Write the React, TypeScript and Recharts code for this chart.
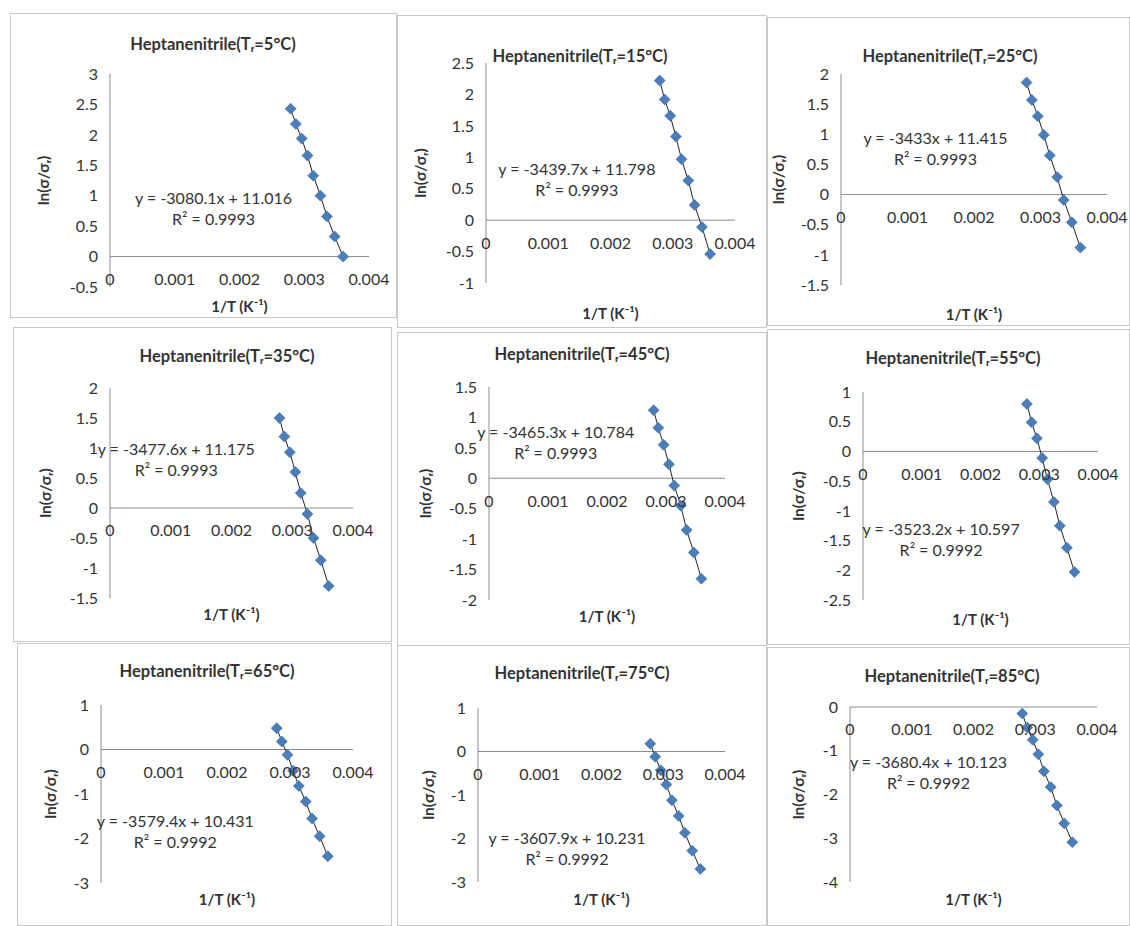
import { ReferenceDot, ReferenceLine, Scatter, ScatterChart, XAxis, YAxis } from 'recharts';

// 1/T (K^-1) for the nine temperatures, same in every panel
const invT = [0.00279, 0.00287, 0.00296, 0.00305, 0.00314, 0.00325, 0.00335, 0.00347, 0.0036];

const refTemps = [5, 15, 25, 35, 45, 55, 65, 75, 85];

const ln5 = [2.43, 2.18, 1.94, 1.66, 1.33, 1.0, 0.66, 0.33, 0.0];
const ln15 = [2.22, 1.92, 1.66, 1.33, 0.97, 0.63, 0.24, -0.11, -0.54];
const ln25 = [1.86, 1.57, 1.3, 0.99, 0.65, 0.29, -0.09, -0.46, -0.88];
const ln35 = [1.5, 1.19, 0.93, 0.6, 0.25, -0.1, -0.5, -0.87, -1.3];
const ln45 = [1.12, 0.83, 0.55, 0.23, -0.12, -0.45, -0.85, -1.22, -1.65];
const ln55 = [0.8, 0.49, 0.22, -0.11, -0.47, -0.85, -1.25, -1.62, -2.03];
const ln65 = [0.48, 0.18, -0.12, -0.48, -0.82, -1.17, -1.55, -1.95, -2.4];
const ln75 = [0.18, -0.12, -0.43, -0.76, -1.12, -1.48, -1.87, -2.28, -2.7];
const ln85 = [-0.15, -0.47, -0.75, -1.08, -1.47, -1.83, -2.25, -2.66, -3.09];
const series = [ln5, ln15, ln25, ln35, ln45, ln55, ln65, ln75, ln85];

const equations = [
  'y = -3080.1x + 11.016',
  'y = -3439.7x + 11.798',
  'y = -3433x + 11.415',
  'y = -3477.6x + 11.175',
  'y = -3465.3x + 10.784',
  'y = -3523.2x + 10.597',
  'y = -3579.4x + 10.431',
  'y = -3607.9x + 10.231',
  'y = -3680.4x + 10.123',
];
const rSquared = ['0.9993', '0.9993', '0.9993', '0.9993', '0.9993', '0.9992', '0.9992', '0.9992', '0.9992'];

const xTicks = [0, 0.001, 0.002, 0.003, 0.004];
const yDomains = [
  [-0.5, 3], [-1, 2.5], [-1.5, 2],
  [-1.5, 2], [-2, 1.5], [-2.5, 1],
  [-3, 1], [-3, 1], [-4, 0],
];
const yStep = [0.5, 0.5, 0.5, 0.5, 0.5, 0.5, 1, 1, 1];

// where the equation sits, in data units
const eqAt = [
  [0.0016, 0.94], [0.00146, 0.8], [0.00142, 0.93],
  [0.00109, 0.97], [0.00113, 0.74], [0.00133, -1.32],
  [0.00118, -1.62], [0.00144, -2.02], [0.00127, -1.28],
];

// panel frames and plot boxes (px)
const layout = [
  { x: 10, y: 13, w: 387, h: 305, pl: 100, pt: 61, pr: 359, pb: 274, yl: 33, xt: 18, tx: 202, ty: 30 },
  { x: 397, y: 15, w: 370, h: 313, pl: 89, pt: 48, pr: 338, pb: 268, yl: 23, xt: 29, tx: 182, ty: 40 },
  { x: 767, y: 17, w: 363, h: 309, pl: 74, pt: 57, pr: 340, pb: 268, yl: 11, xt: 28, tx: 182, ty: 38 },
  { x: 13, y: 327, w: 379, h: 315, pl: 97, pt: 61, pr: 340, pb: 271, yl: 32, xt: 15, tx: 213, ty: 28 },
  { x: 397, y: 332, w: 370, h: 316, pl: 92, pt: 55, pr: 328, pb: 268, yl: 28, xt: 15, tx: 184, ty: 21 },
  { x: 767, y: 329, w: 363, h: 316, pl: 96, pt: 63, pr: 331, pb: 271, yl: 31, xt: 18, tx: 185, ty: 28 },
  { x: 17, y: 643, w: 375, h: 283, pl: 84, pt: 62, pr: 336, pb: 240, yl: 33, xt: 15, tx: 189, ty: 27 },
  { x: 397, y: 645, w: 370, h: 281, pl: 81, pt: 63, pr: 328, pb: 237, yl: 31, xt: 16, tx: 184, ty: 27 },
  { x: 767, y: 647, w: 363, h: 279, pl: 83, pt: 60, pr: 330, pb: 235, yl: 31, xt: 16, tx: 184, ty: 28 },
];

const TEXT = '#333';
const AXIS = '#8c8c8c';
const MARKER = '#4a7ebb';

const Diamond = (props: any) => {
  const { cx, cy } = props;
  const r = 5.5;
  return (
    <polygon
      points={`${cx},${cy - r} ${cx + r},${cy} ${cx},${cy + r} ${cx - r},${cy}`}
      fill={MARKER}
      stroke="#3a6699"
      strokeWidth={0.6}
    />
  );
};

const EqLabel = ({ viewBox, eq, r2 }: any) => {
  const cx = viewBox.x + viewBox.width / 2;
  const cy = viewBox.y + viewBox.height / 2;
  return (
    <text x={cx} y={cy} textAnchor="middle" fontSize={16} fill={TEXT}>
      <tspan x={cx} dy={5}>{eq}</tspan>
      <tspan x={cx} dy={21}>R² = {r2}</tspan>
    </text>
  );
};

const Panel = ({ i }: { i: number }) => {
  const L = layout[i];
  const [y0, y1] = yDomains[i];
  const yTicks: number[] = [];
  for (let k = 0; y0 + k * yStep[i] <= y1 + 1e-9; k++) yTicks.push(+(y0 + k * yStep[i]).toFixed(2));
  const data = invT.map((x, k) => ({ x, y: series[i][k] }));
  const mLeft = L.yl - 8;
  const xAxisH = L.xt + 7;
  const [ex, ey] = eqAt[i];
  return (
    <div
      style={{
        position: 'absolute',
        left: L.x,
        top: L.y,
        width: L.w,
        height: L.h,
        border: '1px solid #c8c8c8',
        boxSizing: 'border-box',
        background: '#fff',
      }}
    >
      <div
        style={{
          position: 'absolute',
          left: L.tx - 150,
          top: L.ty - 10,
          width: 300,
          lineHeight: '20px',
          textAlign: 'center',
          fontWeight: 'bold',
          fontSize: 16.5,
          color: TEXT,
        }}
      >
        Heptanenitrile(Tᵣ={refTemps[i]}°C)
      </div>
      <div style={{ position: 'absolute', left: -1, top: -1 }}>
        <ScatterChart
          width={L.w}
          height={L.h}
          margin={{ top: L.pt, left: mLeft, right: L.w - L.pr, bottom: L.h - L.pb - xAxisH }}
        >
          <XAxis
            type="number"
            dataKey="x"
            domain={[0, 0.004]}
            ticks={xTicks}
            tick={false}
            tickLine={false}
            axisLine={false}
            height={xAxisH}
            label={{ value: '1/T (K⁻¹)', position: 'insideBottom', offset: 0, style: { fontWeight: 'bold', fontSize: 15, fill: TEXT } }}
          />
          <YAxis
            type="number"
            dataKey="y"
            domain={[y0, y1]}
            ticks={yTicks}
            interval={0}
            width={L.pl - mLeft}
            tickLine={false}
            axisLine={{ stroke: AXIS }}
            tick={{ fontSize: 16, fill: TEXT }}
            tickMargin={6}
            label={{
              value: 'ln(σ/σᵣ)',
              angle: -90,
              position: 'insideLeft',
              offset: 8,
              style: { textAnchor: 'middle', fontWeight: 'bold', fontSize: 15.5, fill: TEXT },
            }}
          />
          <ReferenceLine y={0} stroke={AXIS} strokeWidth={1} />
          {xTicks.map((t) => (
            <ReferenceDot
              key={t}
              x={t}
              y={0}
              r={1}
              fill="none"
              stroke="none"
              label={{ value: String(t), position: 'bottom', offset: 16, style: { fontSize: 16, fill: TEXT } }}
            />
          ))}
          <ReferenceDot
            x={ex}
            y={ey}
            r={1}
            fill="none"
            stroke="none"
            label={(p: any) => <EqLabel {...p} eq={equations[i]} r2={rSquared[i]} />}
          />
          <Scatter
            data={data}
            shape={Diamond}
            line={{ stroke: '#222', strokeWidth: 1 }}
            isAnimationActive={false}
          />
        </ScatterChart>
      </div>
    </div>
  );
};

export default function App() {
  return (
    <div
      style={{
        position: 'absolute',
        left: 0,
        top: 0,
        width: 1130,
        height: 926,
        overflow: 'hidden',
        background: '#fff',
        fontFamily: 'Lato, "DejaVu Sans", sans-serif',
      }}
    >
      {layout.map((_, i) => (
        <Panel key={i} i={i} />
      ))}
    </div>
  );
}
